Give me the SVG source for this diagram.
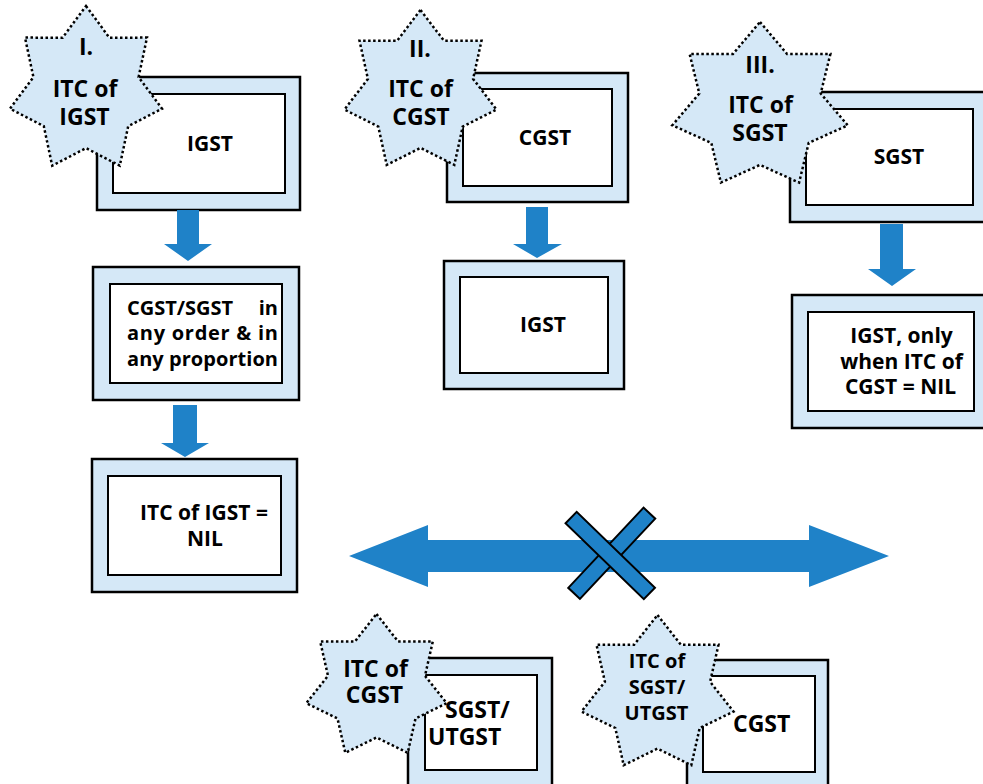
<svg xmlns="http://www.w3.org/2000/svg" width="983" height="784" viewBox="0 0 983 784">
<style>
.frame{fill:#d5e8f7;stroke:#000;stroke-width:2.5}
.inner{fill:#fff;stroke:#000;stroke-width:2}
.star{fill:#d5e8f7;stroke:#000;stroke-width:2.5;stroke-dasharray:2.5 2.5}
.arr{fill:#1f82c8}
.bar{fill:#1f82c8;stroke:#000;stroke-width:2}
text{font-family:"Open Sans","Noto Sans","Liberation Sans",sans-serif;font-weight:bold;fill:#000}
.s{font-size:23px;text-anchor:middle}
.sb{font-size:20px;text-anchor:middle}
.b{font-size:21px;text-anchor:middle}
.m{font-size:20px}
.l{font-size:23px}
</style>
<rect width="983" height="784" fill="#fff"/>

<g id="box-igst-top">
<rect class="frame" x="97" y="77" width="203" height="133"/>
<rect class="inner" x="113" y="94" width="172" height="99"/>
<text class="b" x="210" y="151">IGST</text>
</g>

<g id="box-cgst-top">
<rect class="frame" x="447" y="73" width="181" height="129"/>
<rect class="inner" x="463" y="89" width="149" height="97"/>
<text class="b" x="545" y="145">CGST</text>
</g>

<g id="box-sgst-top">
<rect class="frame" x="790" y="92" width="200" height="130"/>
<rect class="inner" x="806" y="109" width="167" height="96"/>
<text class="b" x="899" y="164">SGST</text>
</g>

<g id="box-cgst-sgst">
<rect class="frame" x="93" y="267" width="206" height="133"/>
<rect class="inner" x="110" y="284" width="172" height="99"/>
<text class="m" y="315"><tspan x="127">CGST/SGST</tspan><tspan x="278" text-anchor="end">in</tspan></text>
<text class="m" x="127" y="340" textLength="151" lengthAdjust="spacing">any order &amp; in</text>
<text class="m" x="127" y="366" textLength="151" lengthAdjust="spacing">any proportion</text>
</g>

<g id="box-itc-nil">
<rect class="frame" x="92" y="459" width="205" height="133"/>
<rect class="inner" x="108" y="476" width="173" height="99"/>
<text class="b" x="204" y="520">ITC of IGST =</text>
<text class="b" x="205" y="546">NIL</text>
</g>

<g id="box-igst-mid">
<rect class="frame" x="444" y="261" width="180" height="128"/>
<rect class="inner" x="460" y="277" width="148" height="96"/>
<text class="b" x="543" y="332">IGST</text>
</g>

<g id="box-igst-only">
<rect class="frame" x="792" y="295" width="200" height="133"/>
<rect class="inner" x="808" y="312" width="166" height="99"/>
<text class="b" x="901.5" y="343">IGST, only</text>
<text class="b" x="901.5" y="369">when ITC of</text>
<text class="b" x="900.5" y="394">CGST = NIL</text>
</g>

<g id="box-sgst-utgst">
<rect class="frame" x="408" y="658" width="144" height="140"/>
<rect class="inner" x="425" y="675" width="112" height="95"/>
<text class="l" x="445" y="718">SGST/</text>
<text class="l" x="428" y="745">UTGST</text>
</g>

<g id="box-cgst-bottom">
<rect class="frame" x="687" y="660" width="141" height="140"/>
<rect class="inner" x="703" y="676" width="112" height="96"/>
<text class="l" x="733" y="732">CGST</text>
</g>

<g id="star-i">
<polygon class="star" points="86,6 109.4,37.7 147,37.6 138.6,77.1 162,108.7 128.2,126.2 119.8,165.7 86,148.1 52.2,165.7 43.8,126.2 10,108.7 33.4,77.1 25,37.6 62.6,37.7"/>
<text class="s" x="86" y="55">I.</text>
<text class="s" x="85" y="97">ITC of</text>
<text class="s" x="84.5" y="125">IGST</text>
</g>

<g id="star-ii">
<polygon class="star" points="420.5,10 443.9,40.7 481.5,40.7 473.1,78.9 496.5,109.6 462.7,126.6 454.3,164.9 420.5,147.9 386.7,164.9 378.3,126.6 344.5,109.6 367.9,78.9 359.5,40.7 397.1,40.7"/>
<text class="s" x="420" y="57">II.</text>
<text class="s" x="420.5" y="97">ITC of</text>
<text class="s" x="421" y="125">CGST</text>
</g>

<g id="star-iii">
<polygon class="star" points="760,22 787,53.9 830.4,53.9 820.7,93.5 847.7,125.3 808.7,142.9 799.1,182.6 760,164.9 720.9,182.6 711.3,142.9 672.3,125.3 699.3,93.5 689.6,53.9 733,53.9"/>
<text class="s" x="760" y="73">III.</text>
<text class="s" x="760.5" y="113">ITC of</text>
<text class="s" x="760" y="141">SGST</text>
</g>

<g id="star-itc-cgst">
<polygon class="star" points="376.5,614 398.1,641.5 432.8,641.5 425,675.8 446.7,703.2 415.5,718.5 407.7,752.8 376.5,737.5 345.3,752.8 337.5,718.5 306.3,703.2 328,675.8 320.2,641.5 354.9,641.5"/>
<text class="s" x="375.5" y="677">ITC of</text>
<text class="s" x="374.5" y="703">CGST</text>
</g>

<g id="star-itc-sgst-utgst">
<polygon class="star" points="657.5,615 680.9,644.8 718.5,644.8 710.1,681.8 733.5,711.6 699.7,728 691.3,765.2 657.5,748.6 623.7,765.2 615.3,728 581.5,711.6 604.9,681.8 596.5,644.8 634.1,644.8"/>
<text class="sb" x="657" y="668">ITC of</text>
<text class="sb" x="657" y="694">SGST/</text>
<text class="sb" x="656.5" y="720">UTGST</text>
</g>

<g id="connectors">
<polygon class="arr" points="177,210 199,210 199,244 212,244 188,261 164,244 177,244"/>
<polygon class="arr" points="173,405 197,405 197,443 209,443 185,457 161,443 173,443"/>
<polygon class="arr" points="526,207 548,207 548,244 562,244 537,258 513,244 526,244"/>
<polygon class="arr" points="880,224 903,224 903,269 916,269 892,286 868,269 880,269"/>
<polygon class="arr" points="349,556 428,525 428,540 809,540 809,525 889,556 809,587 809,572 428,572 428,587"/>
<g id="cross">
<rect class="bar" x="-55" y="-8" width="110" height="16" transform="translate(611.75,553.25) rotate(-46.8)"/>
<rect class="bar" x="-54.5" y="-8" width="109" height="16" transform="translate(610.25,555.5) rotate(44.1)"/>
</g>
</g>
</svg>
